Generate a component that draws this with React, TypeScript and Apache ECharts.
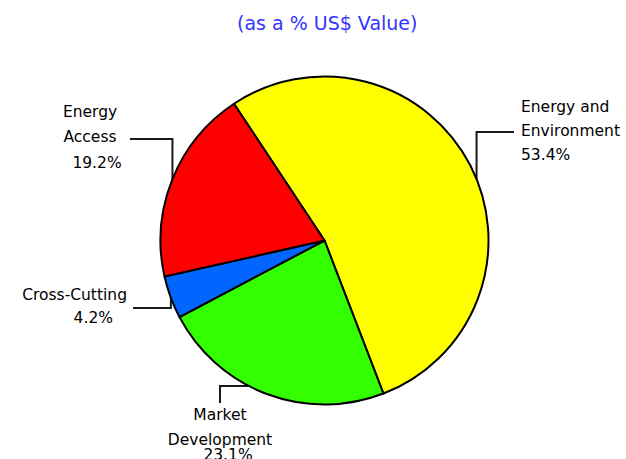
import React, { useEffect, useRef } from "react";
import * as echarts from "echarts";

// ---- data ----
const CATEGORIES = ["Energy and Environment", "Market Development", "Cross-Cutting", "Energy Access"];
const LABEL_LINES = [["Energy and", "Environment"], ["Market", "Development"], ["Cross-Cutting"], ["Energy", "Access"]];
const SHARES = [53.4, 23.1, 4.2, 19.2];
const SUBTITLE = "(as a % US$ Value)";

// ---- styling / layout ----
const COLORS = ["#ffff00", "#33ff00", "#0066ff", "#ff0000"];
const CENTER = [324.5, 240.5];
const RADIUS = 164;
const FONT = "DejaVu Sans";
const LABEL_LAYOUT = [
  { x: 521, y: 94.6, align: "left", anchorDeg: 22, elbow: "v", turn: 132, end: 514 },
  { x: 220, y: 402.1, align: "center", anchorDeg: -117.5, elbow: "h", turn: 220, end: 403 },
  { x: 127, y: 282.6, align: "right", anchorDeg: -159.5, elbow: "v", turn: 308, end: 133 },
  { x: 90, y: 99.1, align: "center", anchorDeg: 158, elbow: "v", turn: 139, end: 130 },
];
const RICH: Record<string, any> = {
  n0: { lineHeight: 24 },
  p0: { lineHeight: 24 },
  n1: { lineHeight: 25 },
  p1: { lineHeight: 5, padding: [0, 0, 0, 16] },
  n2: { lineHeight: 24 },
  p2: { lineHeight: 22, padding: [0, 14, 0, 0] },
  n3: { lineHeight: 25 },
  p3: { lineHeight: 27, padding: [0, 0, 0, 14] },
};
Object.keys(RICH).forEach((k) => {
  RICH[k] = { fontFamily: FONT, fontSize: 15.5, color: "#000", ...RICH[k] };
});

export default function App() {
  const ref = useRef<HTMLDivElement>(null);
  useEffect(() => {
    if (!ref.current) return;
    const chart = echarts.init(ref.current, null, { renderer: "svg" });
    chart.setOption({
      animation: false,
      backgroundColor: "#ffffff",
      title: {
        text: SUBTITLE,
        left: 232,
        top: 8,
        textStyle: { color: "#3333ff", fontSize: 19, fontWeight: "normal", fontFamily: FONT },
      },
      series: [
        {
          type: "pie",
          center: CENTER,
          radius: RADIUS,
          startAngle: 123.5,
          clockwise: true,
          silent: true,
          emphasis: { disabled: true },
          itemStyle: { borderColor: "#000", borderWidth: 2 },
          data: CATEGORIES.map((name, i) => ({
            name,
            value: SHARES[i],
            itemStyle: { color: COLORS[i] },
          })),
          label: {
            show: true,
            position: "outside",
            fontFamily: FONT,
            fontSize: 15.5,
            color: "#000",
            formatter: (p: any) => {
              const i = p.dataIndex;
              const lines = LABEL_LINES[i].map((t) => `{n${i}|${t}}`);
              lines.push(`{p${i}|${SHARES[i].toFixed(1)}%}`);
              return lines.join("\n");
            },
            rich: RICH,
          },
          labelLine: {
            show: true,
            length: 10,
            length2: 10,
            lineStyle: { color: "#1a1a1a", width: 2 },
          },
          labelLayout: (params: any) => {
            const cfg = LABEL_LAYOUT[params.dataIndex];
            const a = (cfg.anchorDeg * Math.PI) / 180;
            const ax = CENTER[0] + RADIUS * Math.cos(a);
            const ay = CENTER[1] - RADIUS * Math.sin(a);
            const pts =
              cfg.elbow === "v"
                ? [[ax, ay], [ax, cfg.turn], [cfg.end, cfg.turn]]
                : [[ax, ay], [cfg.turn, ay], [cfg.turn, cfg.end]];
            return {
              x: cfg.x,
              y: cfg.y,
              align: cfg.align,
              verticalAlign: "top",
              labelLinePoints: pts,
            };
          },
        },
      ],
    });
    return () => chart.dispose();
  }, []);
  return <div ref={ref} style={{ position: "fixed", left: 0, top: 0, width: 626, height: 459 }} />;
}
